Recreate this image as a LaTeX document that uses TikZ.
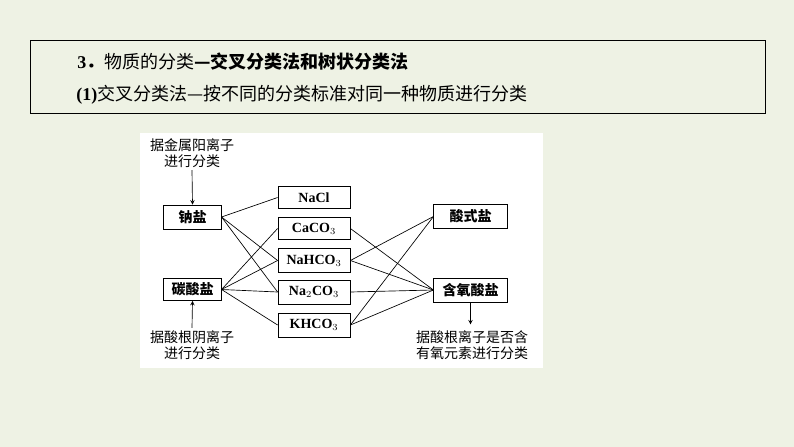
\documentclass[tikz,border=0pt]{standalone}
\usepackage{fontspec}
\setmainfont{Liberation Serif}
\newfontfamily\cjk{Noto Sans CJK SC}
\definecolor{bgg}{HTML}{EEF2E4}
\begin{document}
\begin{tikzpicture}[x=0.75pt,y=-0.75pt,
  bx/.style={draw,line width=0.6pt,fill=white,inner sep=0pt,font=\bfseries\fontsize{10.5}{12}\selectfont},
  lab/.style={align=center,font=\cjk\fontsize{10.5}{12.5}\selectfont,inner sep=0pt},
  ln/.style={line width=0.5pt}]
\fill[bgg] (0,0) rectangle (794,447);
\useasboundingbox (0,0) rectangle (794,447);
\draw[line width=0.7pt] (30,40) rectangle (765,113);
\node[anchor=west,inner sep=0pt,font=\fontsize{13.5}{15}\selectfont] (t1) at (77,62) {\textbf{3}{\cjk\bfseries ．}{\cjk 物质的分类}{\cjk\bfseries —交叉分类法和树状分类法}};
\node[anchor=west,inner sep=0pt,font=\fontsize{13.5}{15}\selectfont] (t2) at (76,95) {\textbf{(1)}{\cjk 交叉分类法—按不同的分类标准对同一种物质进行分类}};
\fill[white] (140,133) rectangle (543,368);
\node[bx,minimum width=43pt,minimum height=18pt] (na) at (192.5,217) {\cjk 钠盐};
\node[bx,minimum width=43pt,minimum height=16.5pt] (tan) at (192.5,289.5) {\cjk 碳酸盐};
\node[bx,minimum width=54pt,minimum height=17pt] (m1) at (314,197.5) {NaCl};
\node[bx,minimum width=54pt,minimum height=17pt] (m2) at (314,228.5) {CaCO$_3$};
\node[bx,minimum width=54pt,minimum height=18pt] (m3) at (314,260.5) {NaHCO$_3$};
\node[bx,minimum width=54pt,minimum height=18pt] (m4) at (314,292) {Na$_2$CO$_3$};
\node[bx,minimum width=54pt,minimum height=18pt] (m5) at (314,325) {KHCO$_3$};
\node[bx,minimum width=55pt,minimum height=18.5pt] (r1) at (470.5,216.5) {\cjk 酸式盐};
\node[bx,minimum width=55pt,minimum height=18pt] (r2) at (470.5,290) {\cjk 含氧酸盐};
\node[lab] (l1) at (192,153) {据金属阳离子\\进行分类};
\node[lab] (l2) at (192,345) {据酸根阴离子\\进行分类};
\node[lab] (l3) at (472,345) {据酸根离子是否含\\有氧元素进行分类};
\draw[ln,-stealth] (l1.south) ++(0,2) -- (na.north);
\draw[ln,-stealth] (l2.north) ++(0,-2) -- (tan.south);
\draw[ln,-stealth] (r2.south) -- ++(0,22);
\foreach \m in {m1,m3,m4} \draw[ln] (na.east) -- (\m.west);
\foreach \m in {m2,m3,m4,m5} \draw[ln] (tan.east) -- (\m.west);
\foreach \m in {m3,m5} \draw[ln] (\m.east) -- (r1.west);
\foreach \m in {m2,m3,m4,m5} \draw[ln] (\m.east) -- (r2.west);
\end{tikzpicture}
\end{document}
